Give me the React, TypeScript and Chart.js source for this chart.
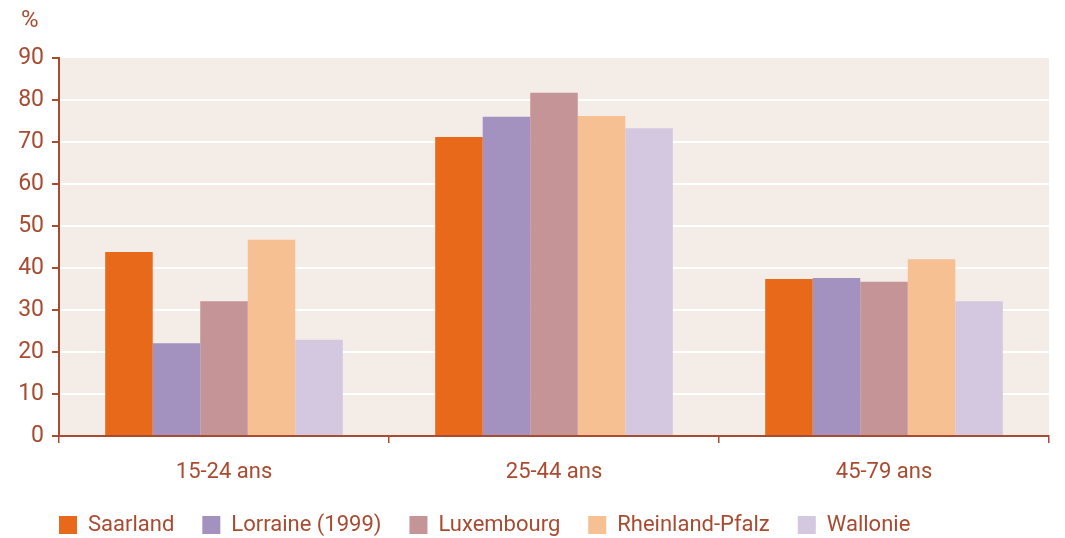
import React, { useEffect, useRef } from "react";
import { Chart, registerables } from "chart.js";

Chart.register(...registerables);

const categories = ["15-24 ans", "25-44 ans", "45-79 ans"];
const seriesNames = ["Saarland", "Lorraine (1999)", "Luxembourg", "Rheinland-Pfalz", "Wallonie"];
const saarland = [43.8, 71.2, 37.4];
const lorraine = [22.1, 76.0, 37.6];
const luxembourg = [32.1, 81.7, 36.7];
const rheinland = [46.7, 76.2, 42.1];
const wallonie = [22.9, 73.3, 32.1];
const colors = ["#E8691A", "#A391C0", "#C49496", "#F6C092", "#D4C7E0"];

const TEXT = "#A84B30";
const FONT = "Roboto, 'Noto Sans', sans-serif";

const bgPlugin = {
  id: "bgPlugin",
  afterLayout(chart: any) {
    if (chart.legend) {
      chart.legend.left += 21;
      chart.legend.right += 21;
    }
  },
  beforeDraw(chart: any) {
    const { ctx, chartArea } = chart;
    ctx.save();
    ctx.fillStyle = "#F4ECE6";
    ctx.fillRect(chartArea.left, chartArea.top, chartArea.right - chartArea.left, chartArea.bottom - chartArea.top);
    ctx.restore();
  },
  afterDraw(chart: any) {
    const { ctx } = chart;
    ctx.save();
    ctx.fillStyle = TEXT;
    ctx.font = `24px ${FONT}`;
    ctx.textBaseline = "top";
    ctx.fillText("%", 21, 9);
    ctx.restore();
  },
};

export default function App() {
  const ref = useRef<HTMLCanvasElement>(null);
  useEffect(() => {
    document.body.style.margin = "0";
    const values = [saarland, lorraine, luxembourg, rheinland, wallonie];
    const chart = new Chart(ref.current!, {
      type: "bar",
      data: {
        labels: categories,
        datasets: seriesNames.map((n, i) => ({
          label: n,
          data: values[i],
          backgroundColor: colors[i],
          borderWidth: 0,
          categoryPercentage: 0.72,
          barPercentage: 1.0,
        })),
      },
      options: {
        animation: false,
        responsive: false,
        maintainAspectRatio: false,
        layout: { padding: { left: 10, right: 16, top: 58, bottom: -8 } },
        plugins: {
          tooltip: { enabled: false },
          legend: {
            position: "bottom",
            align: "start",
            labels: {
              color: TEXT,
              font: { family: FONT, size: 22 },
              boxWidth: 18,
              boxHeight: 18,
              padding: 28,
            },
          },
        },
        scales: {
          x: {
            afterFit: (s: any) => {
              s.height = 50;
            },
            grid: {
              offset: true,
              drawOnChartArea: false,
              tickColor: TEXT,
              tickLength: 7,
              lineWidth: 1.5,
            },
            border: { color: TEXT, width: 2 },
            ticks: { color: TEXT, font: { family: FONT, size: 22 }, padding: 16 },
          },
          y: {
            min: 0,
            max: 90,
            afterFit: (s: any) => {
              s.width = 49;
            },
            ticks: { stepSize: 10, color: TEXT, font: { family: FONT, size: 23 }, padding: 8 },
            grid: {
              color: (c: any) => (c.tick && (c.tick.value === 0 || c.tick.value === 90) ? "rgba(0,0,0,0)" : "#FFFFFF"),
              lineWidth: 2,
              tickColor: TEXT,
              tickLength: 7,
            },
            border: { color: TEXT, width: 2 },
          },
        },
      },
      plugins: [bgPlugin],
    });
    return () => chart.destroy();
  }, []);
  return (
    <div style={{ position: "fixed", left: 0, top: 0, width: 1065, height: 538, background: "#fff" }}>
      <canvas ref={ref} width={1065} height={538} />
    </div>
  );
}
